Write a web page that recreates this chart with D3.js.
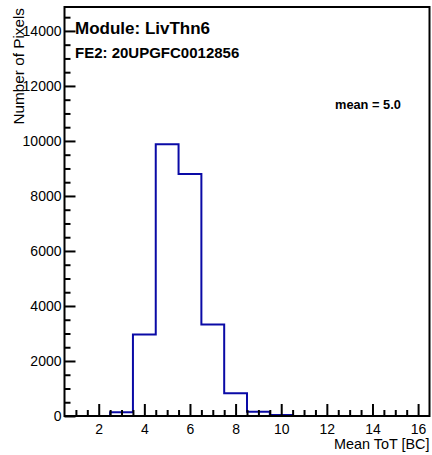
<!DOCTYPE html>
<html>
<head>
<meta charset="utf-8">
<script src="https://cdn.jsdelivr.net/npm/d3@7"></script>
<style>
  html, body { margin: 0; padding: 0; background: #fff; }
  svg { display: block; font-family: "Liberation Sans", Arial, sans-serif; }
</style>
</head>
<body>
<svg id="chart" width="432" height="455"></svg>
<script>
// ---- data ----
const binCenters = [1, 2, 3, 4, 5, 6, 7, 8, 9, 10, 11, 12, 13, 14, 15, 16];
const binCounts  = [0, 0, 140, 2960, 9880, 8800, 3330, 830, 150, 40, 0, 0, 0, 0, 0, 0];
const xMajorTicks = [2, 4, 6, 8, 10, 12, 14, 16];
const yMajorTicks = [0, 2000, 4000, 6000, 8000, 10000, 12000, 14000];
const titleText = "Module: LivThn6";
const subtitleText = "FE2: 20UPGFC0012856";
const meanText = "mean = 5.0";
const xTitle = "Mean ToT [BC]";
const yTitle = "Number of Pixels";

// ---- layout ----
const mLeft = 64.5, mRight = 429.5, mTop = 7, mBottom = 416;
const svg = d3.select("#chart");

const x = d3.scaleLinear().domain([0.5, 16.5]).range([mLeft, mRight]);
const y = d3.scaleLinear().domain([0, 14870]).range([mBottom, mTop]);

const xMinor = d3.range(1, 16.5, 0.5).filter(v => v % 2 !== 0);
const yMinor = d3.range(0, 14870, 500).filter(v => v % 2000 !== 0);

// histogram outline
const pts = [];
binCenters.forEach((c, i) => {
  pts.push([c - 0.5, binCounts[i]]);
  pts.push([c + 0.5, binCounts[i]]);
});
const line = d3.line().x(d => x(d[0])).y(d => y(d[1]));
svg.append("path")
  .attr("d", line(pts))
  .attr("fill", "none")
  .attr("stroke", "#0a0aa6")
  .attr("stroke-width", 2)
  .attr("stroke-linejoin", "miter");

// axes
const fontSize = 14;
function styleAxis(g, width) {
  g.select(".domain").remove();
  g.selectAll(".tick line").attr("stroke", "#000").attr("stroke-width", width);
  g.selectAll(".tick text").attr("fill", "#000").attr("font-size", fontSize).attr("font-family", "Liberation Sans, Arial, sans-serif");
}

const gxMinor = svg.append("g").attr("transform", `translate(0,${mBottom})`)
  .call(d3.axisBottom(x).tickValues(xMinor).tickSize(-6).tickFormat(""));
styleAxis(gxMinor, 2);
const gx = svg.append("g").attr("transform", `translate(0,${mBottom})`)
  .call(d3.axisBottom(x).tickValues(xMajorTicks).tickSize(-12).tickPadding(8).tickFormat(d3.format("d")));
styleAxis(gx, 2);

const gyMinor = svg.append("g").attr("transform", `translate(${mLeft},0)`)
  .call(d3.axisLeft(y).tickValues(yMinor).tickSize(-6).tickFormat(""));
styleAxis(gyMinor, 2);
const gy = svg.append("g").attr("transform", `translate(${mLeft},0)`)
  .call(d3.axisLeft(y).tickValues(yMajorTicks).tickSize(-11).tickPadding(3).tickFormat(d3.format("d")));
styleAxis(gy, 2);

// frame
svg.append("rect")
  .attr("x", mLeft).attr("y", mTop)
  .attr("width", mRight - mLeft).attr("height", mBottom - mTop)
  .attr("fill", "none").attr("stroke", "#000").attr("stroke-width", 2);

// titles
svg.append("text").attr("x", mRight).attr("y", 449)
  .attr("text-anchor", "end").attr("font-size", 14.4).text(xTitle);
svg.append("text").attr("transform", "translate(24,8) rotate(-90)")
  .attr("text-anchor", "end").attr("font-size", 15.3).text(yTitle);

svg.append("text").attr("x", 75).attr("y", 34)
  .attr("font-size", 17).attr("font-weight", "bold").text(titleText);
svg.append("text").attr("x", 75).attr("y", 58)
  .attr("font-size", 15).attr("font-weight", "bold").text(subtitleText);
svg.append("text").attr("x", 335).attr("y", 109)
  .attr("font-size", 12.8).attr("font-weight", "bold").text(meanText);
</script>
</body>
</html>
